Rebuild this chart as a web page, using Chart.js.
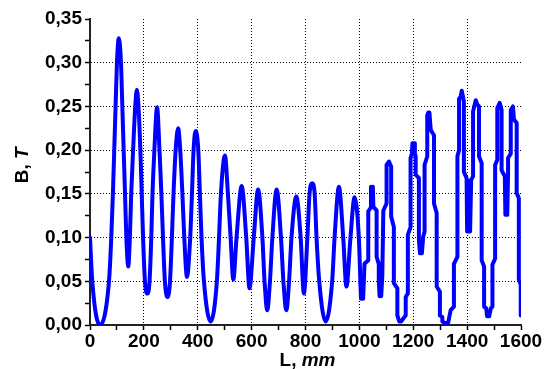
<!DOCTYPE html>
<html lang="en">
  <head>
    <meta charset="UTF-8" />
    <title>B(L)</title>
    <style>
      html, body { margin: 0; padding: 0; background: #fff; }
      canvas { display: block; }
    </style>
  </head>
  <body>
    <canvas id="fieldChart" width="549" height="369"></canvas>

    <script src="https://cdn.jsdelivr.net/npm/chart.js@4/dist/chart.umd.min.js"></script>
    <script>
      // smooth part of the curve, L in mm, B in T
      var smoothL = [
        0, 8.5, 36, 70.5, 79, 85, 90, 95, 100, 107, 115, 120, 125, 130, 135,
        142, 148, 153, 160, 168, 174, 180, 187, 192, 197, 204, 213, 221, 227.5,
        232, 239, 249, 258, 265, 271, 278, 288, 297, 304, 310, 318, 327, 335,
        343, 350, 360, 372, 378.5, 384.5, 392, 402, 408, 414, 423, 448, 471,
        479, 486, 501, 512, 522, 532, 544, 563, 580, 592, 608, 624, 640, 648,
        658, 668, 677, 693, 709, 718, 729, 739, 748, 766, 782, 794, 807, 815,
        825, 834, 841, 851, 875, 899, 908, 924, 940, 952, 967, 982, 998, 1004
      ];
      var smoothB = [
        0.1, 0.05, 0.0, 0.05, 0.1, 0.15, 0.2, 0.25, 0.3, 0.328, 0.3, 0.25, 0.2,
        0.15, 0.1, 0.067, 0.1, 0.15, 0.2, 0.25, 0.269, 0.25, 0.2, 0.15, 0.1,
        0.05, 0.036, 0.05, 0.1, 0.15, 0.2, 0.249, 0.2, 0.15, 0.1, 0.05, 0.032,
        0.05, 0.1, 0.15, 0.2, 0.225, 0.2, 0.15, 0.1, 0.055, 0.1, 0.15, 0.2,
        0.222, 0.2, 0.15, 0.1, 0.05, 0.004, 0.05, 0.1, 0.15, 0.194, 0.15, 0.1,
        0.052, 0.1, 0.159, 0.1, 0.042, 0.1, 0.155, 0.1, 0.05, 0.017, 0.05, 0.1,
        0.155, 0.1, 0.05, 0.017, 0.05, 0.1, 0.147, 0.1, 0.036, 0.1, 0.15,
        0.162, 0.15, 0.1, 0.05, 0.004, 0.05, 0.1, 0.158, 0.1, 0.044, 0.1,
        0.146, 0.1, 0.047
      ];

      // jagged part of the curve (straight segments)
      var jaggedL = [
        1004, 1006, 1010, 1014, 1017, 1019, 1033, 1033, 1042, 1043, 1047, 1050,
        1052, 1064, 1064, 1072, 1072, 1075, 1078, 1081, 1085, 1089, 1101, 1101,
        1110, 1118, 1118, 1128, 1128, 1141, 1141, 1148, 1155, 1172, 1172, 1180,
        1180, 1190, 1190, 1195, 1197, 1204, 1206, 1209, 1209, 1221, 1221, 1225,
        1229, 1232, 1237, 1242, 1242, 1252, 1252, 1256, 1260, 1265, 1277, 1277,
        1287, 1287, 1299, 1299, 1308, 1308, 1320, 1330, 1333, 1339, 1351, 1351,
        1364, 1364, 1370, 1370, 1376, 1380, 1384, 1388, 1388, 1398, 1400, 1404,
        1408, 1411, 1415, 1422, 1422, 1428, 1432, 1438, 1444, 1444, 1454, 1454,
        1463, 1463, 1471, 1474, 1482, 1488, 1494, 1494, 1504, 1504, 1512, 1512,
        1521, 1528, 1528, 1540, 1542, 1546, 1549, 1552, 1552, 1562, 1562, 1570,
        1574, 1584, 1584, 1592, 1592, 1599, 1599
      ];
      var jaggedB = [
        0.047, 0.03, 0.046, 0.03, 0.03, 0.07, 0.074, 0.13, 0.134, 0.158, 0.136,
        0.158, 0.135, 0.131, 0.078, 0.07, 0.052, 0.033, 0.05, 0.033, 0.055,
        0.131, 0.139, 0.183, 0.187, 0.181, 0.124, 0.112, 0.048, 0.042, 0.011,
        0.004, 0.004, 0.011, 0.032, 0.036, 0.103, 0.112, 0.191, 0.196, 0.208,
        0.208, 0.196, 0.193, 0.172, 0.168, 0.097, 0.082, 0.097, 0.082, 0.101,
        0.107, 0.183, 0.193, 0.24, 0.243, 0.243, 0.223, 0.217, 0.139, 0.128,
        0.044, 0.038, 0.011, 0.009, 0.004, 0.002, 0.003, 0.008, 0.017, 0.021,
        0.07, 0.078, 0.193, 0.2, 0.259, 0.261, 0.268, 0.262, 0.255, 0.175,
        0.168, 0.107, 0.165, 0.107, 0.107, 0.166, 0.17, 0.244, 0.252, 0.257,
        0.252, 0.25, 0.193, 0.185, 0.074, 0.067, 0.021, 0.019, 0.01, 0.01,
        0.019, 0.021, 0.069, 0.076, 0.183, 0.189, 0.248, 0.254, 0.246, 0.177,
        0.17, 0.126, 0.168, 0.126, 0.174, 0.191, 0.196, 0.246, 0.25, 0.235,
        0.231, 0.151, 0.145, 0.052, 0.046, 0.011
      ];

      // axes
      var xMajor = [0, 200, 400, 600, 800, 1000, 1200, 1400, 1600];
      var xMinor = [100, 300, 500, 700, 900, 1100, 1300, 1500];
      var yMajor = [0, 0.05, 0.1, 0.15, 0.2, 0.25, 0.3, 0.35];
      var yMinor = [0.025, 0.075, 0.125, 0.175, 0.225, 0.275, 0.325];
      var yLabels = ["0,00", "0,05", "0,10", "0,15", "0,20", "0,25", "0,30", "0,35"];

      var FONT = "'Liberation Sans', Arial, sans-serif";
      var BLUE = "#0000ff";

      function toPoints(xs, ys) {
        return xs.map(function (x, i) {
          return { x: x, y: ys[i] };
        });
      }

      function findMajor(list, v) {
        for (var i = 0; i < list.length; i++) {
          if (Math.abs(list[i] - v) < 1e-6) return i;
        }
        return -1;
      }

      function setTicks(major, minor) {
        return function (scale) {
          scale.ticks = major.concat(minor).sort(function (a, b) {
            return a - b;
          }).map(function (v) {
            return { value: v };
          });
        };
      }

      function gridColor(major, edge) {
        return function (c) {
          if (!c.tick) return "rgba(0,0,0,0)";
          var v = c.tick.value;
          if (findMajor(major, v) < 0 || Math.abs(v - edge) < 1e-6) {
            return "rgba(0,0,0,0)";
          }
          return "#000";
        };
      }

      // axis titles with an italic unit
      var axisTitles = {
        id: "axisTitles",
        afterDraw: function (chart) {
          var ctx = chart.ctx;
          var area = chart.chartArea;
          var normal = "bold 19px " + FONT;
          var italic = "italic bold 19px " + FONT;

          ctx.save();
          ctx.fillStyle = "#000";
          ctx.textBaseline = "alphabetic";

          ctx.font = normal;
          var w1 = ctx.measureText("L, ").width;
          ctx.font = italic;
          var w2 = ctx.measureText("mm").width;
          var sx = (area.left + area.right) / 2 + 2 - (w1 + w2) / 2;
          ctx.font = normal;
          ctx.fillText("L, ", sx, 366);
          ctx.font = italic;
          ctx.fillText("mm", sx + w1, 366);

          ctx.translate(28, area.top + (area.bottom - area.top) * 0.478);
          ctx.rotate(-Math.PI / 2);
          ctx.font = normal;
          var h1 = ctx.measureText("B, ").width;
          ctx.font = italic;
          var h2 = ctx.measureText("T").width;
          ctx.font = normal;
          ctx.fillText("B, ", -(h1 + h2) / 2, 0);
          ctx.font = italic;
          ctx.fillText("T", -(h1 + h2) / 2 + h1, 0);
          ctx.restore();
        },
      };

      var ctx = document.getElementById("fieldChart").getContext("2d");
      var chart = new Chart(ctx, {
        type: "line",
        data: {
          datasets: [
            {
              data: toPoints(smoothL, smoothB),
              borderColor: BLUE,
              borderWidth: 4,
              pointRadius: 0,
              cubicInterpolationMode: "monotone",
              borderJoinStyle: "round",
              borderCapStyle: "round",
            },
            {
              data: toPoints(jaggedL, jaggedB),
              borderColor: BLUE,
              borderWidth: 4,
              pointRadius: 0,
              tension: 0,
              borderJoinStyle: "round",
              borderCapStyle: "round",
            },
          ],
        },
        options: {
          responsive: false,
          animation: false,
          devicePixelRatio: 1,
          layout: { padding: { top: 19, right: 28, left: 0, bottom: 0 } },
          plugins: {
            legend: { display: false },
            tooltip: { enabled: false },
          },
          scales: {
            x: {
              type: "linear",
              min: 0,
              max: 1600,
              afterBuildTicks: setTicks(xMajor, xMinor),
              afterFit: function (s) {
                s.height = 44;
              },
              grid: {
                color: gridColor(xMajor, 1600),
                tickColor: "#000",
                tickLength: 5,
                tickWidth: 1.5,
              },
              border: { color: "#222", width: 2, dash: [1, 2] },
              ticks: {
                autoSkip: false,
                maxRotation: 0,
                padding: 0,
                color: "#000",
                font: { family: FONT, size: 19, weight: "bold" },
                callback: function (v) {
                  return findMajor(xMajor, v) >= 0 ? String(v) : "";
                },
              },
            },
            y: {
              min: 0,
              max: 0.35,
              afterBuildTicks: setTicks(yMajor, yMinor),
              afterFit: function (s) {
                s.width = 90;
              },
              grid: {
                color: gridColor(yMajor, 0.35),
                tickColor: "#000",
                tickLength: 5,
                tickWidth: 1.5,
              },
              border: { color: "#222", width: 2, dash: [1, 2] },
              ticks: {
                autoSkip: false,
                padding: 3,
                color: "#000",
                font: { family: FONT, size: 19, weight: "bold" },
                callback: function (v) {
                  var i = findMajor(yMajor, v);
                  return i >= 0 ? yLabels[i] : "";
                },
              },
            },
          },
        },
        plugins: [axisTitles],
      });
    </script>
  </body>
</html>
